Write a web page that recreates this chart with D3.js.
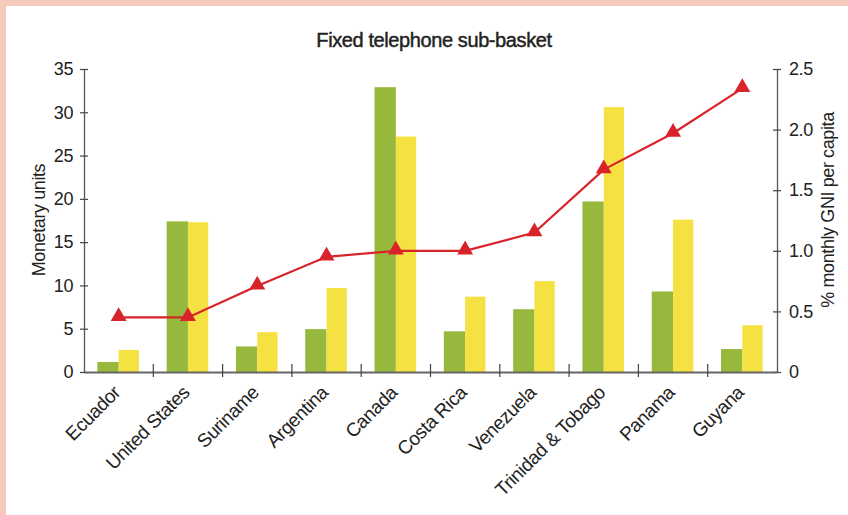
<!DOCTYPE html>
<html><head><meta charset="utf-8">
<script src="https://cdn.jsdelivr.net/npm/d3@7"></script>
<style>
html,body{margin:0;padding:0;background:#fff;}
svg{display:block;}
text{font-family:"Liberation Sans",Arial,sans-serif;fill:#222;letter-spacing:-0.4px;}
</style></head>
<body>
<svg id="chart" width="848" height="515"></svg>
<script>
const categories = ["Ecuador","United States","Suriname","Argentina","Canada","Costa Rica","Venezuela","Trinidad & Tobago","Panama","Guyana"];
const seriesGreen = [1.15, 17.4, 2.95, 4.95, 32.9, 4.7, 7.25, 19.7, 9.3, 2.65];
const seriesYellow = [2.55, 17.3, 4.6, 9.7, 27.2, 8.7, 10.5, 30.6, 17.6, 5.4];
const seriesPct = [0.45, 0.45, 0.71, 0.95, 1.0, 1.0, 1.15, 1.67, 1.97, 2.34];
const leftTicks = [0,5,10,15,20,25,30,35];
const rightTicks = [0,0.5,1.0,1.5,2.0,2.5];
const rightTickLabels = ["0","0.5","1.0","1.5","2.0","2.5"];

const svg = d3.select("#chart");
const FONT = '"Liberation Sans",Arial,sans-serif';
// pink frame
svg.append("rect").attr("x",0).attr("y",0).attr("width",848).attr("height",6).attr("fill","#f6cbbd");
svg.append("rect").attr("x",0).attr("y",0).attr("width",6).attr("height",515).attr("fill","#f6cbbd");

const x0 = 84, x1 = 777, yTop = 69, yBot = 372;
const x = d3.scaleBand().domain(categories).range([x0,x1]).paddingInner(0).paddingOuter(0);
const yL = d3.scaleLinear().domain([0,35]).range([yBot,yTop]);
const yR = d3.scaleLinear().domain([0,2.5]).range([yBot,yTop]);
const bw = 21.3;

svg.append("text").attr("x",434).attr("y",47).attr("text-anchor","middle")
  .attr("font-size",20).attr("stroke","#222").attr("stroke-width",0.45)
  .text("Fixed telephone sub-basket");

// bars
const g = svg.append("g");
g.selectAll(".bg").data(categories).enter().append("rect")
  .attr("x",d=>x(d)+x.bandwidth()/2-bw).attr("width",bw)
  .attr("y",(d,i)=>yL(seriesGreen[i])).attr("height",(d,i)=>yBot-yL(seriesGreen[i]))
  .attr("fill","#96b83d");
g.selectAll(".by").data(categories).enter().append("rect")
  .attr("x",d=>x(d)+x.bandwidth()/2).attr("width",bw-1)
  .attr("y",(d,i)=>yL(seriesYellow[i])).attr("height",(d,i)=>yBot-yL(seriesYellow[i]))
  .attr("fill","#f6e142");

// axes
const axL = svg.append("g").attr("transform",`translate(${x0},0)`)
  .call(d3.axisLeft(yL).tickValues(leftTicks).tickSize(4).tickSizeOuter(0).tickPadding(7));
axL.selectAll(".tick line").attr("x1",4).attr("x2",-4);
const axR = svg.append("g").attr("transform",`translate(${x1},0)`)
  .call(d3.axisRight(yR).tickValues(rightTicks).tickFormat((d,i)=>rightTickLabels[i]).tickSize(4).tickSizeOuter(0).tickPadding(8));
axR.selectAll(".tick line").attr("x1",-4).attr("x2",4);
const axB = svg.append("g").attr("transform",`translate(0,${yBot})`)
  .call(d3.axisBottom(x).tickSize(0).tickSizeOuter(0));
[axL,axR,axB].forEach(a=>{
  a.select(".domain").attr("stroke","#555").attr("stroke-width",1.3);
  a.selectAll(".tick line").attr("stroke","#444").attr("stroke-width",1.2);
  a.selectAll("text").attr("font-size",18).attr("fill","#222").attr("font-family",FONT);
});
axB.select(".domain").attr("stroke","#666").attr("stroke-width",2);
axB.selectAll(".tick text").attr("text-anchor","end").attr("font-size",19)
  .attr("x",0).attr("y",0).attr("dy","0.35em")
  .attr("transform","translate(-2,17) rotate(-45)");
// category separator ticks
svg.append("g").selectAll("line").data(categories.slice(1)).enter().append("line")
  .attr("x1",d=>x(d)).attr("x2",d=>x(d)).attr("y1",yBot-8).attr("y2",yBot+5)
  .attr("stroke","#444").attr("stroke-width",1.2);

// axis titles
svg.append("text").attr("transform","translate(45,220) rotate(-90)").attr("text-anchor","middle")
  .attr("font-size",18).text("Monetary units");
svg.append("text").attr("transform","translate(834,210) rotate(-90)").attr("text-anchor","middle")
  .attr("font-size",18).text("% monthly GNI per capita");

// line
const line = d3.line().x((d,i)=>x(categories[i])+x.bandwidth()/2).y(d=>yR(d));
svg.append("path").datum(seriesPct).attr("d",line).attr("fill","none")
  .attr("stroke","#d9232b").attr("stroke-width",2.2);
const tri = d3.symbol().type(d3.symbolTriangle).size(110);
svg.selectAll(".tri").data(seriesPct).enter().append("path")
  .attr("d",tri).attr("fill","#d9232b")
  .attr("transform",(d,i)=>`translate(${x(categories[i])+x.bandwidth()/2},${yR(d)-1})`);
</script>
</body></html>
